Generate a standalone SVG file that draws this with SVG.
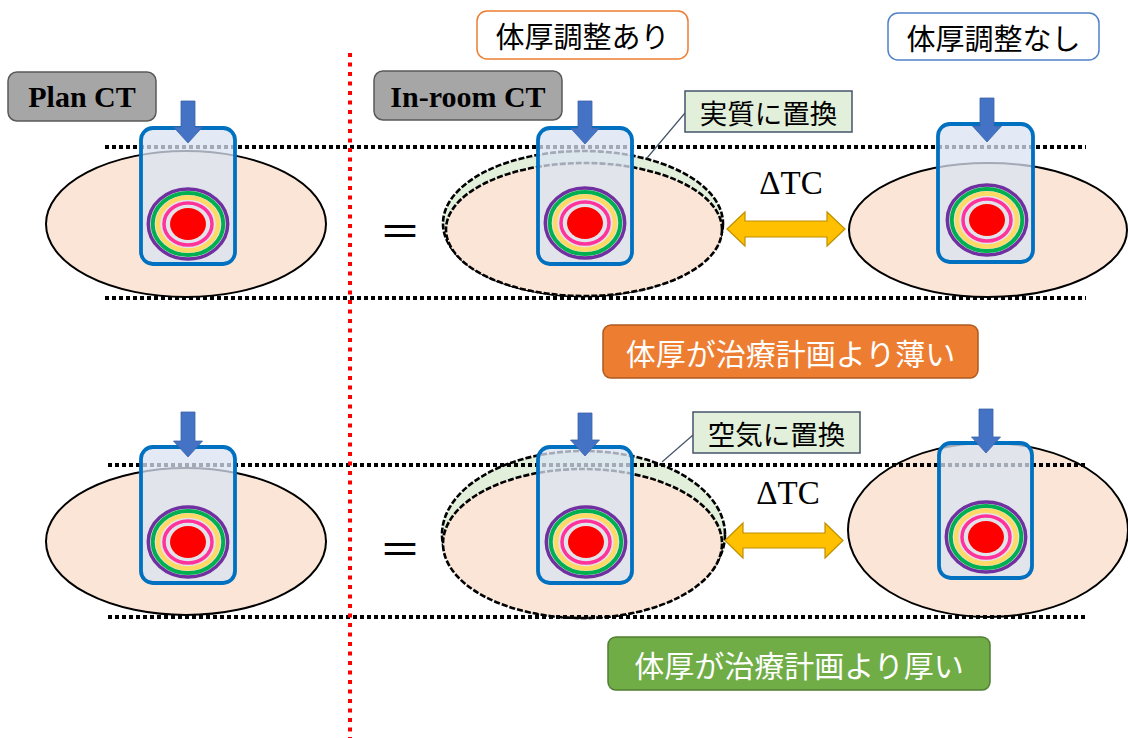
<svg xmlns="http://www.w3.org/2000/svg" width="1128" height="738" viewBox="0 0 1128 738">
  <style>
    .body{fill:#fbe5d6;stroke:#000;stroke-width:2}
    .body-dash{fill:#fbe5d6;stroke:#000;stroke-width:2.6;stroke-dasharray:6 2}
    .shell{fill:#e2efda;stroke:#000;stroke-width:2.6;stroke-dasharray:6 2}
    .guide{stroke:#000;stroke-width:4;stroke-dasharray:4 3;fill:none}
    .divider{stroke:#ff0000;stroke-width:4;stroke-dasharray:4 5.5;fill:none}
    .beam{fill:#dae3f3;fill-opacity:0.75;stroke:#0070c0;stroke-width:3.8}
    .arrow{fill:#4472c4;stroke:#3b63a8;stroke-width:0.8}
    .dtc{fill:#ffc000;stroke:#bf9000;stroke-width:1.2}
    .tag{fill:#a6a6a6;stroke:#595959;stroke-width:1.5}
    .tag-text{font-family:"Liberation Serif",serif;font-weight:bold;font-size:30px;fill:#000;text-anchor:middle}
    .serif{font-family:"Liberation Serif",serif;font-size:33px;fill:#000;text-anchor:middle}
    .jp{font-family:"Noto Sans CJK JP","Noto Sans",sans-serif;text-anchor:middle;dominant-baseline:central}
    .callout{fill:#e2efda;stroke:#44546a;stroke-width:1.5}
    .leader{stroke:#44546a;stroke-width:1.2;fill:none}
  </style>
  <defs>
    <!-- tumour with concentric dose contours, centred on the origin -->
    <g id="target">
      <ellipse rx="39.7" ry="35" fill="none" stroke="#7030a0" stroke-width="3.5"/>
      <ellipse rx="35.3" ry="31" fill="none" stroke="#00b050" stroke-width="4"/>
      <ellipse rx="30" ry="26.5" fill="none" stroke="#ffd966" stroke-width="4.5"/>
      <ellipse rx="24" ry="21" fill="none" stroke="#ff3399" stroke-width="3.5"/>
      <ellipse rx="18" ry="16" fill="#ff0000"/>
    </g>
  </defs>

  <rect width="1128" height="738" fill="#fff"/>

  <!-- patient body outlines -->
  <g id="bodies">
    <ellipse class="body" cx="186" cy="224" rx="140" ry="73"/>
    <ellipse class="shell" cx="583" cy="223.5" rx="140" ry="72.5"/>
    <ellipse class="body-dash" cx="584" cy="229.5" rx="138" ry="66.5"/>
    <ellipse class="body" cx="988" cy="230" rx="139" ry="67"/>

    <ellipse class="body" cx="186" cy="541.5" rx="140" ry="73.5"/>
    <ellipse class="shell" cx="583.5" cy="534.5" rx="141.5" ry="83.5"/>
    <ellipse class="body-dash" cx="582.5" cy="543.5" rx="139.5" ry="74.5"/>
    <ellipse class="body" cx="988" cy="530" rx="140" ry="87"/>
  </g>

  <!-- reference thickness lines -->
  <g id="guides">
    <line class="guide" x1="105" y1="147" x2="1086" y2="147"/>
    <line class="guide" x1="105" y1="298" x2="1086" y2="298"/>
    <line class="guide" x1="108" y1="465" x2="1088" y2="465"/>
    <line class="guide" x1="108" y1="617" x2="1088" y2="617"/>
  </g>

  <!-- irradiation fields -->
  <g id="field-plan-top">
    <rect class="beam" x="141" y="128" width="94" height="136" rx="12"/>
    <use href="#target" x="188" y="224"/>
    <path class="arrow" d="M181,101 H195 V127 H202.5 L188,143 L173.5,127 H181 Z"/>
  </g>
  <g id="field-adjusted-top">
    <rect class="beam" x="538" y="128" width="94" height="136" rx="12"/>
    <use href="#target" x="585" y="223"/>
    <path class="arrow" d="M578,101 H592 V128 H599.5 L585,144 L570.5,128 H578 Z"/>
  </g>
  <g id="field-raw-top">
    <rect class="beam" x="938" y="124" width="95" height="138" rx="12"/>
    <use href="#target" x="987" y="220"/>
    <path class="arrow" d="M980,98 H994 V126 H1001.5 L987,142 L972.5,126 H980 Z"/>
  </g>
  <g id="field-plan-bottom">
    <rect class="beam" x="141" y="447" width="94" height="136" rx="12"/>
    <use href="#target" x="188" y="542"/>
    <path class="arrow" d="M181,412 H195 V441 H202.5 L188,457 L173.5,441 H181 Z"/>
  </g>
  <g id="field-adjusted-bottom">
    <rect class="beam" x="538" y="447" width="94" height="136" rx="12"/>
    <use href="#target" x="586" y="542"/>
    <path class="arrow" d="M578,413 H592 V440 H599.5 L585,456 L570.5,440 H578 Z"/>
  </g>
  <g id="field-raw-bottom">
    <rect class="beam" x="939" y="443" width="93" height="135" rx="12"/>
    <use href="#target" x="986" y="537"/>
    <path class="arrow" d="M979,409 H993 V437 H1000.5 L986,453 L971.5,437 H979 Z"/>
  </g>

  <!-- plan / in-room divider -->
  <line class="divider" x1="350" y1="53" x2="350" y2="738"/>

  <!-- column headers -->
  <g id="tag-plan">
    <rect class="tag" x="8" y="72" width="148" height="49" rx="9"/>
    <text class="tag-text" x="82" y="107">Plan CT</text>
  </g>
  <g id="tag-inroom">
    <rect class="tag" x="374" y="71" width="188" height="49" rx="9"/>
    <text class="tag-text" x="468" y="107">In-room CT</text>
  </g>
  <g id="head-adjusted">
    <rect x="477" y="11" width="211" height="48" rx="10" fill="#fff" stroke="#ed7d31" stroke-width="1.5"/>
    <text class="jp" x="582.5" y="35" font-size="29">体厚調整あり</text>
  </g>
  <g id="head-raw">
    <rect x="888" y="13" width="211" height="47" rx="10" fill="#fff" stroke="#4f81c9" stroke-width="1.5"/>
    <text class="jp" x="993.5" y="37" font-size="29">体厚調整なし</text>
  </g>

  <!-- equals signs and thickness-change arrows -->
  <g id="relations">
    <text class="jp" x="400" y="228" font-size="42">＝</text>
    <text class="jp" x="400" y="546" font-size="42">＝</text>
    <path class="dtc" d="M727,229 L745,212 V221 H827 V212 L845,229 L827,246 V237 H745 V246 Z"/>
    <text class="serif" x="791" y="194">ΔTC</text>
    <path class="dtc" d="M725,540.5 L743,523 V533 H825 V523 L843,540.5 L825,558 V548 H743 V558 Z"/>
    <text class="serif" x="788" y="504">ΔTC</text>
  </g>

  <!-- callouts -->
  <g id="connectors">
    <line class="leader" x1="685" y1="113" x2="647" y2="158"/>
    <line class="leader" x1="693" y1="435" x2="662" y2="462"/>
  </g>
  <g id="callout-tissue">
    <rect class="callout" x="685" y="91" width="167" height="41"/>
    <text class="jp" x="768.5" y="112" font-size="27.5">実質に置換</text>
  </g>
  <g id="callout-air">
    <rect class="callout" x="693" y="412" width="167" height="41"/>
    <text class="jp" x="776.5" y="433" font-size="27.5">空気に置換</text>
  </g>

  <!-- case labels -->
  <g id="label-thinner">
    <rect x="603" y="325" width="375" height="53" rx="8" fill="#ed7d31" stroke="#ae5a21" stroke-width="1.5"/>
    <text class="jp" x="790.5" y="352" font-size="30" fill="#fff">体厚が治療計画より薄い</text>
  </g>
  <g id="label-thicker">
    <rect x="608" y="637" width="382" height="53" rx="8" fill="#70ad47" stroke="#507e32" stroke-width="1.5"/>
    <text class="jp" x="799" y="664" font-size="30" fill="#fff">体厚が治療計画より厚い</text>
  </g>
</svg>
